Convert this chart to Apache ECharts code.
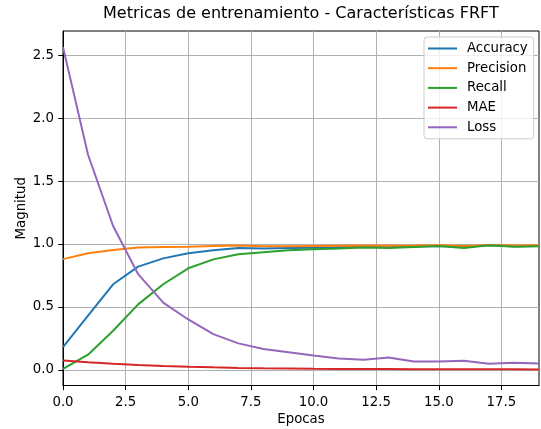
<!DOCTYPE html>
<html>
<head>
<meta charset="utf-8">
<script src="https://cdn.jsdelivr.net/npm/echarts@6/dist/echarts.min.js"></script>
<style>
  html, body { margin: 0; padding: 0; background: #fff; }
  #chart { width: 541px; height: 429px; }
</style>
</head>
<body>
<div id="chart"></div>
<script>
// Training metrics per epoch
const epochs = [0, 1, 2, 3, 4, 5, 6, 7, 8, 9, 10, 11, 12, 13, 14, 15, 16, 17, 18, 19];
const accuracy = [0.18, 0.43, 0.68, 0.82, 0.886, 0.926, 0.95, 0.968, 0.965, 0.968, 0.97, 0.975, 0.978, 0.975, 0.98, 0.985, 0.978, 0.99, 0.983, 0.985];
const precision = [0.88, 0.926, 0.952, 0.973, 0.977, 0.978, 0.985, 0.988, 0.982, 0.983, 0.985, 0.987, 0.988, 0.987, 0.988, 0.99, 0.985, 0.992, 0.988, 0.99];
const recall = [0.008, 0.12, 0.31, 0.52, 0.68, 0.807, 0.878, 0.918, 0.934, 0.95, 0.958, 0.965, 0.972, 0.968, 0.977, 0.985, 0.968, 0.99, 0.978, 0.983];
const mae = [0.074, 0.06, 0.047, 0.037, 0.03, 0.024, 0.019, 0.015, 0.012, 0.01, 0.008, 0.007, 0.006, 0.006, 0.005, 0.005, 0.004, 0.004, 0.004, 0.003];
const loss = [2.566, 1.71, 1.143, 0.76, 0.534, 0.40, 0.283, 0.21, 0.165, 0.14, 0.114, 0.09, 0.08, 0.098, 0.066, 0.066, 0.071, 0.048, 0.055, 0.05];

const seriesNames = ['Accuracy', 'Precision', 'Recall', 'MAE', 'Loss'];
const seriesValues = [accuracy, precision, recall, mae, loss];
const colors = ['#1f77b4', '#ff7f0e', '#2ca02c', '#d62728', '#9467bd'];

const xTicks = [0, 2.5, 5, 7.5, 10, 12.5, 15, 17.5];
const yTicks = [0, 0.5, 1.0, 1.5, 2.0, 2.5];

// y limits with a 5% margin around the data
const allVals = seriesValues.flat();
const dMin = Math.min(...allVals), dMax = Math.max(...allVals);
const pad = (dMax - dMin) * 0.05;
const yMin = dMin - pad, yMax = dMax + pad;

const font = 'DejaVu Sans';
const fs = 13.3;
const chart = echarts.init(document.getElementById('chart'), null, { renderer: 'canvas' });

chart.setOption({
  animation: false,
  backgroundColor: '#fff',
  title: {
    text: 'Metricas de entrenamiento - Características FRFT',
    left: 103, top: 6, padding: 0,
    textStyle: { fontFamily: font, fontSize: 16, fontWeight: 'normal', color: '#000' }
  },
  grid: {
    left: 63, right: 2, top: 31, bottom: 43.5,
    outerBoundsMode: 'none', containLabel: false,
    show: true, borderColor: '#000', borderWidth: 1, backgroundColor: 'transparent'
  },
  legend: {
    orient: 'vertical',
    left: 424, top: 37,
    padding: [4, 6, 4, 4],
    itemGap: 4.7,
    itemWidth: 29, itemHeight: 15,
    backgroundColor: 'rgba(255,255,255,0.8)',
    borderColor: '#cccccc', borderWidth: 1, borderRadius: 3,
    textStyle: { fontFamily: font, fontSize: fs, color: '#000', padding: [0, 0, 0, 5], lineHeight: 15 },
    data: seriesNames.map((n, i) => ({
      name: n,
      icon: 'path://M0,0 L100,0 L100,7 L0,7 Z',
      itemStyle: { color: colors[i] }
    }))
  },
  xAxis: {
    type: 'value', min: 0, max: 19, interval: 2.5,
    name: 'Epocas', nameLocation: 'middle', nameGap: 28, nameMoveOverlap: false,
    nameTextStyle: { fontFamily: font, fontSize: fs, color: '#000' },
    axisLine: { show: true, onZero: false, lineStyle: { color: '#000', width: 1 } },
    axisTick: { show: true, inside: false, length: 4.7, lineStyle: { color: '#000', width: 1 }, customValues: xTicks },
    axisLabel: {
      fontFamily: font, fontSize: fs, color: '#000', margin: 10.5,
      customValues: xTicks,
      formatter: v => v.toFixed(1)
    },
    splitLine: { show: true, lineStyle: { color: '#b0b0b0', width: 1 } }
  },
  yAxis: {
    type: 'value', min: yMin, max: yMax,
    name: 'Magnitud', nameLocation: 'middle', nameGap: 35, nameRotate: 90, nameMoveOverlap: false,
    nameTextStyle: { fontFamily: font, fontSize: fs, color: '#000' },
    axisLine: { show: true, onZero: false, lineStyle: { color: '#000', width: 1 } },
    axisTick: { show: true, inside: false, length: 4.7, lineStyle: { color: '#000', width: 1 }, customValues: yTicks },
    axisLabel: {
      fontFamily: font, fontSize: fs, color: '#000', margin: 9,
      customValues: yTicks,
      formatter: v => v.toFixed(1)
    },
    splitLine: { show: true, lineStyle: { color: '#b0b0b0', width: 1 } }
  },
  series: seriesNames.map((name, i) => ({
    name: name,
    type: 'line',
    data: epochs.map((e, j) => [e, seriesValues[i][j]]),
    showSymbol: false,
    symbol: 'none',
    color: colors[i],
    lineStyle: { color: colors[i], width: 2 },
    emphasis: { disabled: true }
  }))
});
</script>
</body>
</html>
